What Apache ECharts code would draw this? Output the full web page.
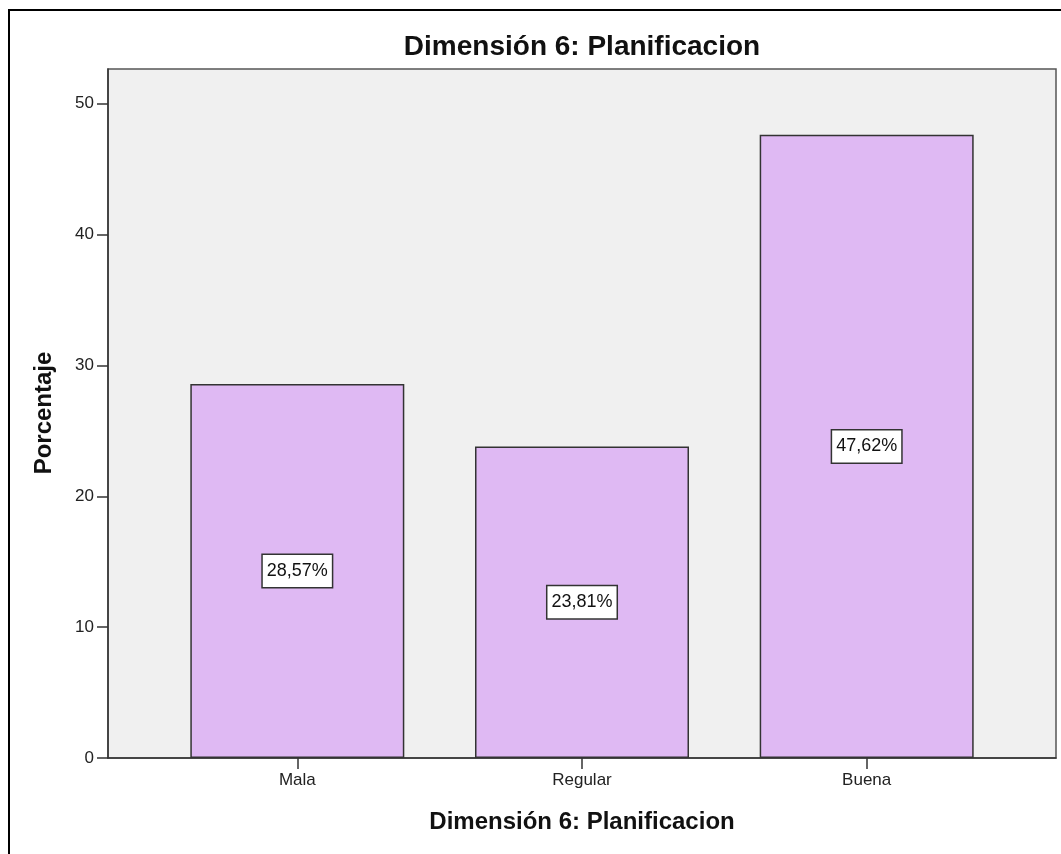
<!DOCTYPE html>
<html><head><meta charset="utf-8">
<script src="https://cdn.jsdelivr.net/npm/echarts@6/dist/echarts.min.js"></script>
<style>html,body{margin:0;padding:0;background:#fff}#c{width:1061px;height:854px}</style>
</head><body><div id="c"></div>
<script>
const categories = ['Mala', 'Regular', 'Buena'];
const values = [28.57, 23.81, 47.62];
const valueLabels = ['28,57%', '23,81%', '47,62%'];
const yTicks = [0, 10, 20, 30, 40, 50];
const catPositions = [0, 1, 2];
const titleText = 'Dimensión 6: Planificacion';
const xName = 'Dimensión 6: Planificacion';
const yName = 'Porcentaje';

const FONT = '"Liberation Sans", Arial, sans-serif';
const chart = echarts.init(document.getElementById('c'), null, {renderer: 'canvas'});
chart.setOption({
  animation: false,
  backgroundColor: '#ffffff',
  grid: {left: 108, right: 5, top: 69, bottom: 96, show: true,
    backgroundColor: '#f0f0f0', borderColor: '#555555', borderWidth: 1.5},
  xAxis: {
    type: 'value', min: -0.665, max: 2.665,
    splitLine: {show: false},
    axisLine: {show: true, onZero: false, lineStyle: {color: '#333333', width: 1.5}},
    axisTick: {show: true, customValues: catPositions, length: 11, lineStyle: {color: '#333333', width: 1.5}},
    axisLabel: {customValues: catPositions, margin: 14, fontSize: 17, color: '#222222', fontFamily: FONT,
      formatter: v => categories[Math.round(v)]}
  },
  yAxis: {
    type: 'value', min: 0, max: 52.65,
    splitLine: {show: false},
    axisLine: {show: true, onZero: false, lineStyle: {color: '#333333', width: 1.5}},
    axisTick: {show: true, customValues: yTicks, length: 11, lineStyle: {color: '#333333', width: 1.5}},
    axisLabel: {customValues: yTicks, margin: 14, fontSize: 17, color: '#222222', fontFamily: FONT}
  },
  series: [{
    type: 'bar',
    barWidth: 214,
    data: values.map((v, i) => [catPositions[i], v]),
    itemStyle: {color: '#dfb9f3', borderColor: '#333333', borderWidth: 1.5},
    label: {
      show: true, position: 'inside',
      formatter: p => valueLabels[p.dataIndex],
      fontSize: 18, fontFamily: FONT, color: '#111111',
      backgroundColor: '#ffffff', borderColor: '#333333', borderWidth: 1.5,
      padding: [6, 4], lineHeight: 20
    }
  }],
  graphic: [
    {type: 'rect', shape: {x: 9, y: 10, width: 1200, height: 1000}, silent: true,
      style: {fill: 'none', stroke: '#000000', lineWidth: 2}},
    {type: 'text', x: 582, y: 47, style: {text: titleText, align: 'center', verticalAlign: 'middle',
      font: 'bold 28px ' + FONT, fill: '#111111'}},
    {type: 'text', x: 582, y: 822, style: {text: xName, align: 'center', verticalAlign: 'middle',
      font: 'bold 24px ' + FONT, fill: '#111111'}},
    {type: 'text', x: 44, y: 413, rotation: Math.PI / 2, style: {text: yName, align: 'center', verticalAlign: 'middle',
      font: 'bold 24px ' + FONT, fill: '#111111'}}
  ]
});
</script>
</body></html>
